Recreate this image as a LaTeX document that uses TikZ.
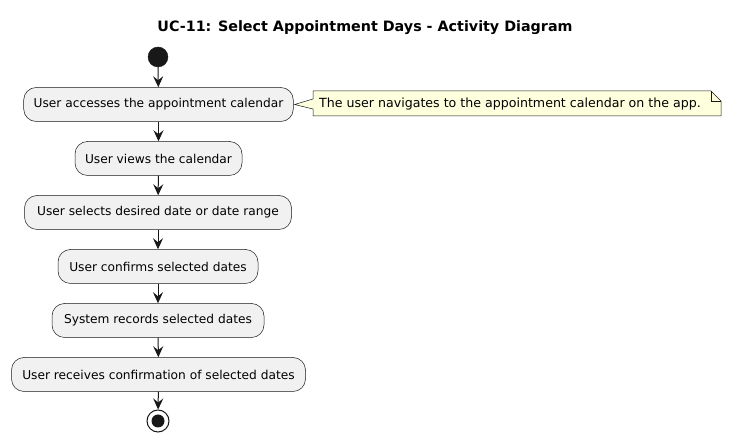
\documentclass[tikz,border=0pt]{standalone}
\usepackage{fontspec}
\setmainfont{DejaVu Sans}
\usetikzlibrary{arrows.meta}
\definecolor{ink}{HTML}{181818}
\definecolor{boxfill}{HTML}{F1F1F1}
\definecolor{notefill}{HTML}{FEFFDD}
\tikzset{
  act/.style={draw=ink, line width=0.5pt, fill=boxfill, rounded corners=12.5pt,
    minimum height=34pt, inner xsep=10pt, font=\fontsize{12.2}{14}\selectfont, anchor=center},
  flow/.style={draw=ink, line width=1pt, -{Stealth[length=11pt, width=10pt, inset=4pt]}},
  startdot/.style={circle, fill=ink, draw=ink, minimum size=20pt, inner sep=0pt},
}
\begin{document}
\begin{tikzpicture}[x=1pt, y=-1pt]
\useasboundingbox (0,0) rectangle (732,443);
\node[font=\fontsize{14.3}{16}\selectfont\bfseries] (title) at (365,28) {UC-11: Select Appointment Days - Activity Diagram};
\node[startdot] (start) at (158,57) {};
\node[act, minimum width=269pt] (a1) at (158.5,104.5) {User accesses the appointment calendar};
\node[act, minimum width=167pt] (a2) at (158.5,158.5) {User views the calendar};
\node[act, minimum width=267pt] (a3) at (158,212.5) {User selects desired date or date range};
\node[act, minimum width=200pt] (a4) at (158,266.5) {User confirms selected dates};
\node[act, minimum width=212pt] (a5) at (158,320.5) {System records selected dates};
\node[act, minimum width=294pt] (a6) at (158.5,374.5) {User receives confirmation of selected dates};
\node[circle, draw=ink, line width=1pt, fill=white, minimum size=22pt, inner sep=0pt] (stop) at (158,421) {};
\node[circle, fill=ink, minimum size=13pt, inner sep=0pt] (stopin) at (stop.center) {};
% note
\coordinate (n1) at (313,91);
\coordinate (n2) at (711,91);
\coordinate (n3) at (721,101);
\coordinate (n4) at (721,116);
\coordinate (n5) at (313,116);
\coordinate (n6) at (313,109);
\coordinate (tip) at (a1.east);
\coordinate (n7) at (313,99);
\draw[draw=ink, line width=0.5pt, fill=notefill] (n1) -- (n2) -- (n3) -- (n4) -- (n5) -- (n6) -- ([xshift=1pt]tip) -- (n7) -- cycle;
\draw[draw=ink, line width=0.5pt] (n2) -- (711,101) -- (n3);
\node[font=\fontsize{12.6}{15}\selectfont, anchor=west, inner sep=0pt] (note) at (319,104) {The user navigates to the appointment calendar on the app.};
% flows
\draw[flow] (start) -- (a1);
\draw[flow] (a1) -- (a2);
\draw[flow] (a2) -- (a3);
\draw[flow] (a3) -- (a4);
\draw[flow] (a4) -- (a5);
\draw[flow] (a5) -- (a6);
\draw[flow] (a6) -- (stop);
\end{tikzpicture}
\end{document}
